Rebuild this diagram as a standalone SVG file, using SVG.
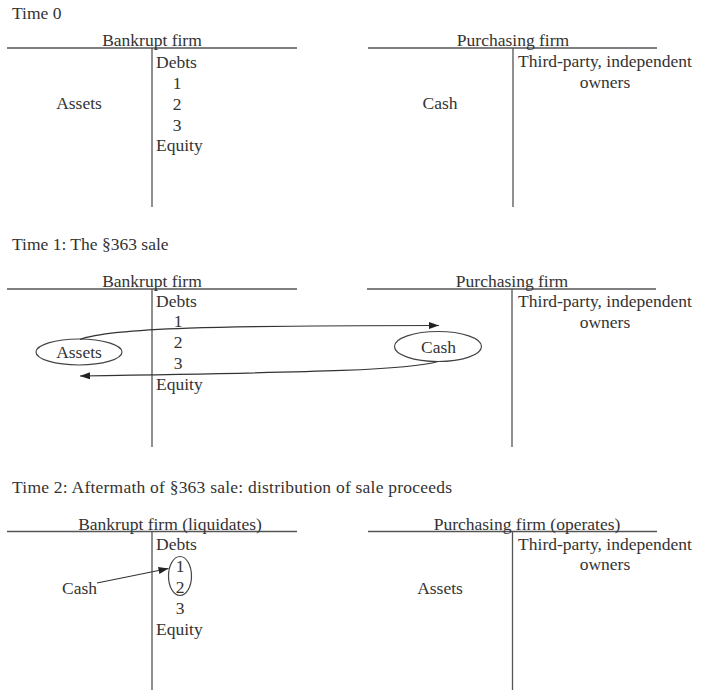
<svg xmlns="http://www.w3.org/2000/svg" width="701" height="690" viewBox="0 0 701 690">
<style>
text{font-family:"Liberation Serif","Times New Roman",serif;font-size:17.5px;fill:#333}
.m{text-anchor:middle}
.ln{stroke:#555;stroke-width:1.3;fill:none}
.el{stroke:#444;stroke-width:1.2;fill:none}
.ar{stroke:#333;stroke-width:1.2;fill:none}
</style>
<defs>
<marker id="ah" markerUnits="userSpaceOnUse" markerWidth="11" markerHeight="8" refX="10" refY="3.5" orient="auto">
<path d="M0,0 L10,3.5 L0,7 z" fill="#222"/>
</marker>
</defs>
<rect width="701" height="690" fill="#fff"/>

<g id="time0">
<text x="12" y="19">Time 0</text>
<g id="t0-bankrupt">
<path class="ln" d="M7,48 H297 M152,48 V207"/>
<text class="m" x="152" y="46">Bankrupt firm</text>
<text x="156" y="67.5">Debts</text>
<text class="m" x="177" y="89">1</text>
<text class="m" x="177" y="110">2</text>
<text class="m" x="177" y="131">3</text>
<text x="156" y="150.5">Equity</text>
<text class="m" x="79" y="109">Assets</text>
</g>
<g id="t0-purchasing">
<path class="ln" d="M368,48 H657 M513,48 V207"/>
<text class="m" x="513" y="46">Purchasing firm</text>
<text class="m" x="605" y="66.5">Third-party, independent</text>
<text class="m" x="605" y="87.5">owners</text>
<text class="m" x="440" y="109">Cash</text>
</g>
</g>

<g id="time1">
<text x="12" y="250">Time 1: The §363 sale</text>
<g id="t1-bankrupt">
<path class="ln" d="M7,289 H297 M152,289 V447"/>
<text class="m" x="152" y="287">Bankrupt firm</text>
<text x="156" y="306.5">Debts</text>
<text class="m" x="178" y="327">1</text>
<text class="m" x="178" y="348">2</text>
<text class="m" x="178" y="369">3</text>
<text x="156" y="390">Equity</text>
</g>
<g id="t1-assets">
<ellipse class="el" cx="79" cy="352" rx="43" ry="13"/>
<text class="m" x="79" y="358">Assets</text>
</g>
<g id="t1-purchasing">
<path class="ln" d="M367,289 H656 M512,289 V447"/>
<text class="m" x="512" y="287">Purchasing firm</text>
<text class="m" x="605" y="307">Third-party, independent</text>
<text class="m" x="605" y="328">owners</text>
</g>
<g id="t1-cash">
<ellipse class="el" cx="438" cy="346.5" rx="43.5" ry="15"/>
<text class="m" x="438.5" y="352.5">Cash</text>
</g>
</g>

<g id="time2">
<text x="12" y="493" textLength="440" lengthAdjust="spacing">Time 2: Aftermath of §363 sale: distribution of sale proceeds</text>
<g id="t2-bankrupt">
<path class="ln" d="M7,531.5 H297 M152,531.5 V690"/>
<text class="m" x="170" y="529.5">Bankrupt firm (liquidates)</text>
<text x="156" y="550">Debts</text>
<text class="m" x="180" y="571.5">1</text>
<text class="m" x="180" y="593">2</text>
<text class="m" x="180" y="614">3</text>
<text x="156" y="634.5">Equity</text>
<ellipse class="el" cx="180" cy="576" rx="11.5" ry="19.5"/>
</g>
<g id="t2-cash">
<text x="62" y="593.5">Cash</text>
</g>
<g id="t2-purchasing">
<path class="ln" d="M368,531.5 H657 M512.5,531.5 V690"/>
<text class="m" x="527" y="529.5">Purchasing firm (operates)</text>
<text class="m" x="605" y="550">Third-party, independent</text>
<text class="m" x="605" y="570">owners</text>
<text class="m" x="440" y="594">Assets</text>
</g>
</g>

<g id="connectors">
<path class="ar" d="M80,339.5 C110,328 220,325.5 439,325.5" marker-end="url(#ah)"/>
<path class="ar" d="M438,361.5 C410,370 330,372 80,376" marker-end="url(#ah)"/>
<path class="ar" d="M97,583 L168.5,568.5" marker-end="url(#ah)"/>
</g>
</svg>
